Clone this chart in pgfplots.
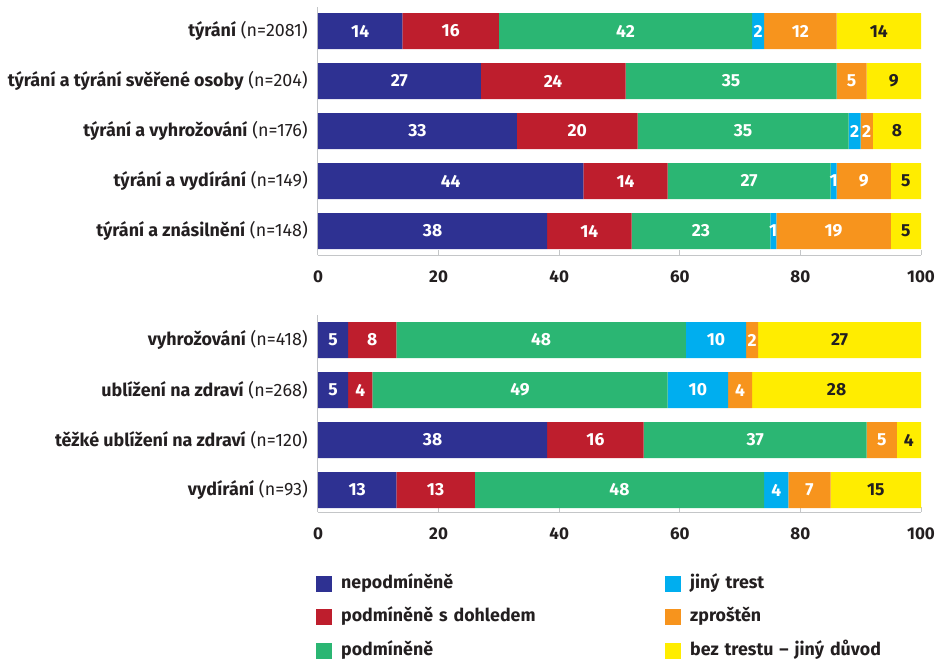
\documentclass[border=0pt]{standalone}
\usepackage{fontspec}
\setmainfont{Fira Sans}
\usepackage{pgfplots}
\pgfplotsset{compat=1.18}
\definecolor{cblue}{HTML}{2E3192}
\definecolor{cred}{HTML}{BE1E2D}
\definecolor{cgreen}{HTML}{2BB673}
\definecolor{ccyan}{HTML}{00AEEF}
\definecolor{corange}{HTML}{F7941D}
\definecolor{cyellow}{HTML}{FFED00}
\definecolor{ctext}{HTML}{231F20}
\definecolor{cgray}{HTML}{C4C6C8}
\newcommand{\fs}{\fontsize{17}{20}\selectfont}
\newcommand{\fy}{\fontsize{17.9}{21}\selectfont}
\newcommand{\fb}{\fontsize{17.5}{20}\selectfont}
\newcommand{\fl}{\fontsize{17.8}{21}\selectfont}
\pgfplotsset{
  mybars/.style={
    xbar stacked, bar width=36pt, scale only axis, width=603pt,
    xmin=0, xmax=100, y dir=reverse,
    axis x line*=bottom, axis y line*=left,
    axis line style={draw=cgray, line width=1pt, -},
    xtick={0,20,...,100},
    tick align=inside, major tick length=5pt,
    xtick style={draw=cgray, line width=1pt},
    ytick style={draw=none},
    tick label style={text=ctext},
    xticklabel style={font=\fs\bfseries, inner sep=0pt, yshift=-15.5pt},
    yticklabel style={font=\fy, inner sep=0pt, xshift=-10pt},
    /pgf/number format/assume math mode=true,
    point meta=explicit,
    nodes near coords={\pgfmathfloatifflags{\pgfplotspointmeta}{0}{}{\pgfmathprintnumber{\pgfplotspointmeta}}},
    every node near coord/.append style={font=\fb\bfseries, text=white},
  }
}
\begin{document}
\begin{tikzpicture}
\useasboundingbox (0pt,0pt) rectangle (938pt,-659pt);
\begin{axis}[mybars,
  at={(318pt,-255pt)}, anchor=south west, height=248pt,
  ymin=-0.48, ymax=4.48, ytick={0,...,4},
  yticklabels={{\textbf{týrání} (n=2081)},{\textbf{týrání a týrání svěřené osoby} (n=204)},{\textbf{týrání a vyhrožování} (n=176)},{\textbf{týrání a vydírání} (n=149)},{\textbf{týrání a znásilnění} (n=148)}},
]
\addplot[fill=cblue, draw=none] coordinates {(14,0)[14] (27,1)[27] (33,2)[33] (44,3)[44] (38,4)[38]};
\addplot[fill=cred, draw=none] coordinates {(16,0)[16] (24,1)[24] (20,2)[20] (14,3)[14] (14,4)[14]};
\addplot[fill=cgreen, draw=none] coordinates {(42,0)[42] (35,1)[35] (35,2)[35] (27,3)[27] (23,4)[23]};
\addplot[fill=ccyan, draw=none] coordinates {(2,0)[2] (0,1)[0] (2,2)[2] (1,3)[1] (1,4)[1]};
\addplot[fill=corange, draw=none] coordinates {(12,0)[12] (5,1)[5] (2,2)[2] (9,3)[9] (19,4)[19]};
\addplot[fill=cyellow, draw=none, every node near coord/.append style={text=ctext}] coordinates {(14,0)[14] (9,1)[9] (8,2)[8] (5,3)[5] (5,4)[5]};
\end{axis}
\begin{axis}[mybars,
  at={(318pt,-512pt)}, anchor=south west, height=197pt,
  ymin=-0.5, ymax=3.44, ytick={0,...,3},
  yticklabels={{\textbf{vyhrožování} (n=418)},{\textbf{ublížení na zdraví} (n=268)},{\textbf{těžké ublížení na zdraví} (n=120)},{\textbf{vydírání} (n=93)}},
  legend columns=3, transpose legend,
  legend image code/.code={\fill[#1,draw=none] (0pt,-8pt) rectangle (15.5pt,8pt);},
  legend style={at={(axis description cs:-0.0033,-0.322)}, anchor=north west, draw=none, fill=none, inner sep=0pt,
    font=\fl\bfseries, text=ctext, legend cell align=left,
    nodes={inner sep=0pt, text height=12pt, text depth=3pt},
    row sep=17.5pt,
    /tikz/every odd column/.append style={column sep=9.5pt},
    /tikz/every even column/.append style={column sep=0pt, text width=324pt}},
]
\addplot[fill=cblue, draw=none] coordinates {(5,0)[5] (5,1)[5] (38,2)[38] (13,3)[13]};
\addplot[fill=cred, draw=none] coordinates {(8,0)[8] (4,1)[4] (16,2)[16] (13,3)[13]};
\addplot[fill=cgreen, draw=none] coordinates {(48,0)[48] (49,1)[49] (37,2)[37] (48,3)[48]};
\addplot[fill=ccyan, draw=none] coordinates {(10,0)[10] (10,1)[10] (0,2)[0] (4,3)[4]};
\addplot[fill=corange, draw=none] coordinates {(2,0)[2] (4,1)[4] (5,2)[5] (7,3)[7]};
\addplot[fill=cyellow, draw=none, every node near coord/.append style={text=ctext}] coordinates {(27,0)[27] (28,1)[28] (4,2)[4] (15,3)[15]};
\legend{nepodmíněně, podmíněně s dohledem, podmíněně, jiný trest, zproštěn, bez trestu – jiný důvod}
\end{axis}
\end{tikzpicture}
\end{document}
